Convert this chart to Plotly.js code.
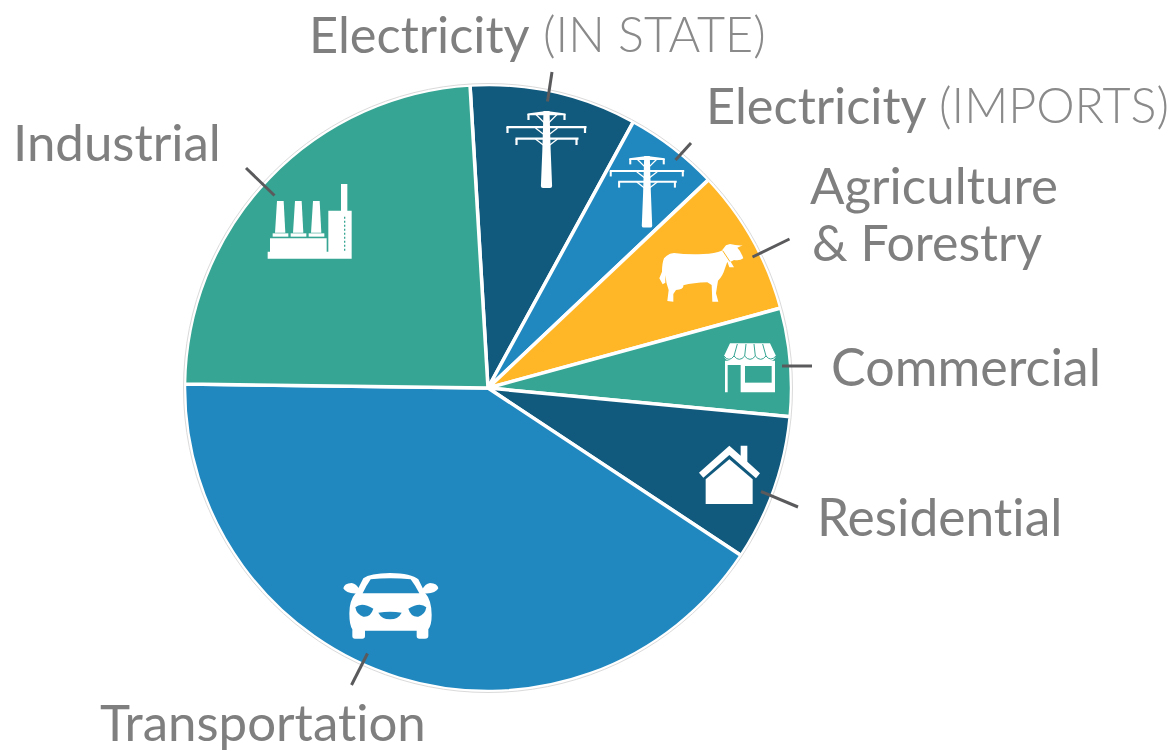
<!DOCTYPE html>
<html><head><meta charset="utf-8">
<script src="https://cdn.plot.ly/plotly-3.0.1.min.js"></script>
<style>html,body{margin:0;padding:0;background:#fff}#c{width:1176px;height:751px}
svg text{font-variant-ligatures:none;font-feature-settings:"liga" 0}</style>
</head><body><div id="c"></div>
<script>
const categories = ["Electricity (IN STATE)","Electricity (IMPORTS)","Agriculture & Forestry","Commercial","Residential","Transportation","Industrial"];
const values = [8.9,5.0,7.8,5.75,7.8,40.9,23.85];
const colors = ["#115A7E","#2088BF","#FFB727","#37A593","#115A7E","#2088BF","#37A593"];
const W=1176,H=751,CX=488,CY=388,R=303.5;
const textColor="#7F7F7F", font="Lato, 'Noto Sans', sans-serif";
const labelTexts=["Electricity","(IN STATE)","Electricity","(IMPORTS)","Agriculture","& Forestry","Commercial","Residential","Transportation","Industrial"];
const labelX=[308,542,705,938,809,811,830,816,99,12];
const labelY=[33,33,104,104,184,242,366,516,721,141];
const labelSize=[50.5,48.5,50.5,48.5,51,50,52,51.5,51,51];
const labelWeight=[400,300,400,300,400,400,400,400,400,400];
const labelColor=[textColor,"#8A8A8A",textColor,"#8A8A8A",textColor,textColor,textColor,textColor,textColor,textColor];

const px=x=>x/W, py=y=>1-y/H;
function P(d,ox,oy,s){
  let i=0;
  return d.replace(/-?\d+(\.\d+)?/g,m=>{
    const v=parseFloat(m), r=(i++%2===0)?px(ox+v*s):py(oy+v*s);
    return r.toFixed(6);
  });
}
const shapes=[];
function fill(d,ox,oy,s,c){shapes.push({type:"path",xref:"paper",yref:"paper",path:P(d,ox,oy,s),fillcolor:c||"#fff",line:{width:0},layer:"above"});}
function stroke(d,ox,oy,s,c,w,dash){shapes.push({type:"path",xref:"paper",yref:"paper",path:P(d,ox,oy,s),line:{color:c,width:w,dash:dash||"solid"},layer:"above"});}

shapes.push({type:"circle",xref:"paper",yref:"paper",x0:px(CX-304.5),x1:px(CX+304.5),y0:py(CY+304.5),y1:py(CY-304.5),line:{color:"#DADADA",width:1},layer:"above"});

const leaders=[[246,168,274.5,195.5],[552,72,547.5,101.5],[691,143,675.5,160],[789.5,239,752.5,257],[812,366,782,366],[798,507,761,491.5],[351.5,685,367.5,653.5]];
leaders.forEach(l=>stroke(`M ${l[0]} ${l[1]} L ${l[2]} ${l[3]}`,0,0,1,"#5A5A5C",3));

const T="#37A593";
const f=[250,90,1/3];
fill("M 53 506 L 305 506 L 305 362 L 292 362 L 292 282 L 273 282 L 273 362 L 235 362 L 235 485 L 230 485 L 230 445 L 60 445 L 60 485 L 53 485 Z",...f);
[0,54,108].forEach(o=>{
  fill(`M ${68+o} 430 L ${115+o} 430 L ${115+o} 440 L ${68+o} 440 Z`,...f);
  fill(`M ${75+o} 428 L ${106+o} 428 L ${101+o} 333 L ${81+o} 333 Z`,...f);
});
stroke("M 284 380 L 284 485",...f,T,1.3,"2px,2px");

function pylon(cx,top,s){
  const o=[cx,top,s];
  fill("M -3 0 L 3 0 L 4.2 40 L 5.6 75 Q 5.6 77 3.5 77 L -3.5 77 Q -5.6 77 -5.6 75 L -4.2 40 Z",...o);
  fill("M -19 2.5 L 0 0 L 19 2.5 L 19 4.2 L -19 4.2 Z",...o);
  fill("M -40 15 L 40 15 L 40 17.2 L -40 17.2 Z",...o);
  fill("M -31 26.5 L 32 26.5 L 32 28.7 L -31 28.7 Z",...o);
  [[-18,3],[18,3],[-39,16],[38.5,16],[-30,28],[30,28]].forEach(q=>fill(`M ${q[0]-1.1} ${q[1]} L ${q[0]+1.1} ${q[1]} L ${q[0]+1.1} ${q[1]+6} L ${q[0]-1.1} ${q[1]+6} Z`,...o));
  ["-11 3 L -2 12","11 3 L 2 12","-11 17 L -2 24","11 17 L 2 24","-11 28 L -2 35","11 28 L 2 35"].forEach(q=>stroke("M "+q,...o,"#fff",1.3));
}
pylon(546.5,111,1);
pylon(647,156,0.93);

const c3=[650,230,1/3];
fill("M 42 85 Q 55 70 72 69 Q 110 74 160 72 Q 195 70 215 62 L 228 46 L 240 42 Q 260 47 278 46 L 262 53 Q 272 62 280 85 Q 270 93 252 90 L 242 95 L 252 112 L 238 112 L 232 95 L 225 115 Q 218 140 204 152 L 198 190 L 205 215 L 187 215 L 185 165 L 172 157 Q 130 158 100 166 Q 102 178 78 180 L 70 192 L 70 215 L 52 213 L 56 180 Q 48 160 46 135 L 46 158 L 38 163 L 28 145 L 36 125 Q 36 100 42 85 Z",...c3);
stroke("M 218 62 L 240 95",...c3,"#FFB727",1);

const s3=[650,230,1/3];
fill("M 240 340 L 360 340 L 378 378 Q 372 395 358 392 L 375 392 L 375 487 L 272 487 L 272 405 L 233 405 L 233 487 L 225 487 L 225 392 L 240 392 Q 226 392 222 378 Z",...s3);
fill("M 285 408 L 365 408 L 365 458 L 285 458 Z",...s3,T);
["M 262 342 L 252 378","M 288 342 L 284 378","M 312 342 L 316 378","M 338 342 L 348 378","M 222 378 Q 237 398 252 378 Q 268 398 284 378 Q 300 398 316 378 Q 332 398 348 378 Q 362 396 378 378"].forEach(d=>stroke(d,...s3,T,1));

fill("M 238 647 L 272 677 L 272 647 L 292 647 L 292 695 L 330 730 L 318 745 L 238 675 L 160 743 L 147 728 Z",...s3);
fill("M 167 748 L 238 688 L 308 748 L 308 822 L 167 822 Z",...s3);

const k=[320,560,1/3];
fill("M 130 55 Q 150 40 210 39 Q 275 40 295 58 L 315 98 Q 335 120 335 165 Q 335 195 325 208 L 325 228 Q 325 236 315 236 L 298 236 Q 290 236 290 228 L 290 212 L 135 212 L 135 228 Q 135 236 127 236 L 105 236 Q 97 236 97 228 L 97 208 Q 88 195 88 160 Q 88 120 108 98 Z",...k);
fill("M 70 85 Q 72 70 95 69 Q 110 72 118 88 L 112 100 Q 78 102 70 85 Z",...k);
fill("M 355 85 Q 353 70 330 69 Q 315 72 307 88 L 313 100 Q 347 102 355 85 Z",...k);
const B="#2088BF";
fill("M 152 58 Q 210 52 272 58 Q 285 75 298 100 L 128 100 Q 140 75 152 58 Z",...k,B);
fill("M 106 142 Q 125 125 160 146 Q 152 172 130 170 Q 110 165 106 142 Z",...k,B);
fill("M 319 142 Q 300 125 265 146 Q 273 172 295 170 Q 315 165 319 142 Z",...k,B);
fill("M 175 158 Q 210 152 245 158 Q 235 178 210 178 Q 185 178 175 158 Z",...k,B);

const annotations=labelTexts.map((t,i)=>({text:t,xref:"paper",yref:"paper",x:px(labelX[i]),y:py(labelY[i]),xanchor:"left",yanchor:"middle",showarrow:false,align:"left",borderpad:0,font:{family:font,size:labelSize[i],color:labelColor[i],weight:labelWeight[i]}}));

Plotly.newPlot("c",[{
  type:"pie",labels:categories,values:values,sort:false,direction:"clockwise",rotation:-3.4,
  marker:{colors:colors,line:{color:"#fff",width:3.5}},textinfo:"none",hoverinfo:"label+percent",
  domain:{x:[px(CX-R),px(CX+R)],y:[py(CY+R),py(CY-R)]}
}],{
  width:W,height:H,margin:{l:0,r:0,t:0,b:0},showlegend:false,paper_bgcolor:"#fff",
  shapes:shapes,annotations:annotations
},{displayModeBar:false,staticPlot:true});
</script></body></html>
